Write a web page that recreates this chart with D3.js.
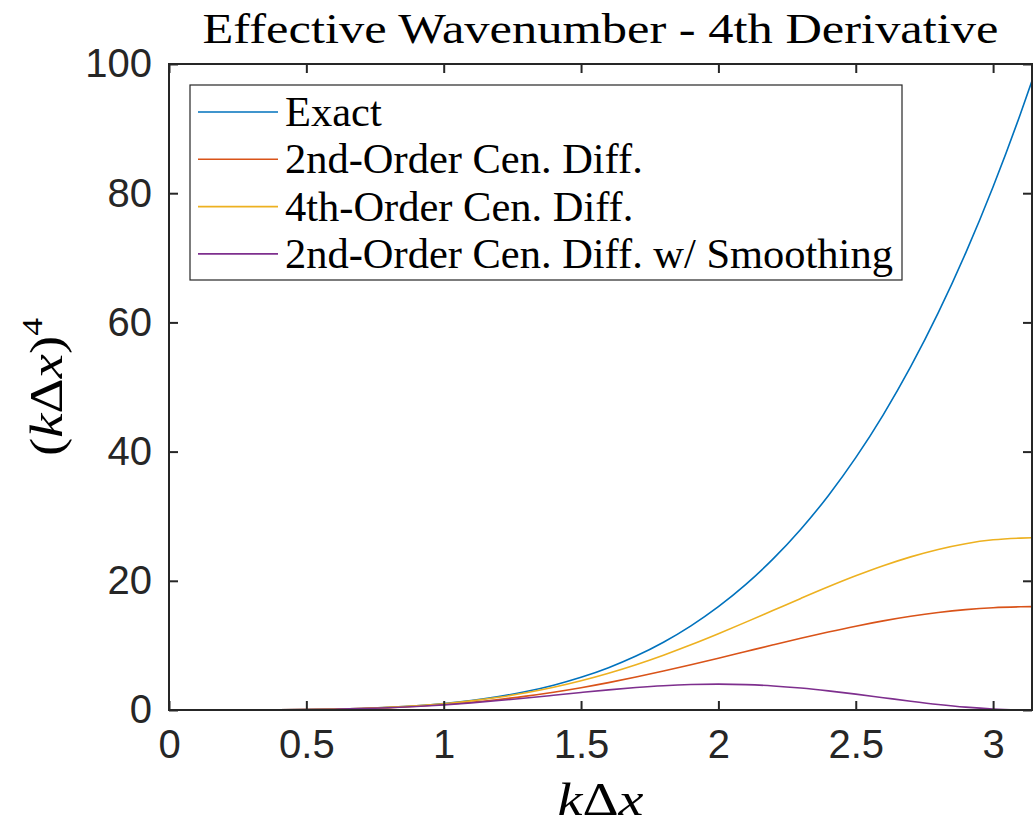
<html lang="en">
<head>
  <title>Effective Wavenumber</title>
  <meta charset="utf-8">
  <style>
    body { margin: 0; background: #fff; }
    svg { display: block; }
  </style>
</head>
<script src="https://d3js.org/d3.v7.min.js"></script>
<body>
  <svg id='canvas'></svg>
</body>
<script>

// ************************************************************************************** //
// Data

var kdx = [0, 0.1, 0.2, 0.3, 0.4, 0.5, 0.6, 0.7, 0.8, 0.9, 1.0, 1.1, 1.2, 1.3, 1.4, 1.5,
           1.6, 1.7, 1.8, 1.9, 2.0, 2.1, 2.2, 2.3, 2.4, 2.5, 2.6, 2.7, 2.8, 2.9, 3.0, 3.1, 3.1416];

var exact  = [0, 0.0001, 0.0016, 0.0081, 0.0256, 0.0625, 0.1296, 0.2401, 0.4096, 0.6561, 1.0, 1.4641,
              2.0736, 2.8561, 3.8416, 5.0625, 6.5536, 8.3521, 10.498, 13.032, 16.0, 19.448, 23.426,
              27.984, 33.178, 39.063, 45.698, 53.144, 61.466, 70.728, 81.0, 92.352, 97.409];
var cen2   = [0, 0.0001, 0.0016, 0.0080, 0.0249, 0.0599, 0.1220, 0.2212, 0.3679, 0.5727, 0.8453, 1.1942,
              1.6263, 2.1462, 2.7558, 3.4541, 4.2370, 5.0972, 6.0241, 7.0044, 8.0219, 9.0582, 10.093,
              11.106, 12.074, 12.976, 13.792, 14.502, 15.089, 15.539, 15.838, 15.973, 16.0];
var cen4   = [0, 0.0001, 0.0016, 0.0081, 0.0256, 0.0624, 0.1291, 0.2385, 0.4052, 0.6450, 0.9748, 1.4117,
              1.9720, 2.6703, 3.5183, 4.5241, 5.6906, 7.0151, 8.4884, 10.094, 11.809, 13.602, 15.438,
              17.274, 19.067, 20.767, 22.329, 23.706, 24.858, 25.747, 26.344, 26.612, 26.667];
var smooth = [0, 0.0001, 0.0016, 0.0080, 0.0249, 0.0597, 0.1211, 0.2181, 0.3595, 0.5522, 0.8006, 1.1051,
              1.4610, 1.8583, 2.2812, 2.7085, 3.1150, 3.4734, 3.7560, 3.9381, 4.0000, 3.9300, 3.7261,
              3.3971, 2.9626, 2.4522, 1.9032, 1.3578, 0.8592, 0.4480, 0.1601, 0.0272, 0];

var seriesNames = ['Exact', '2nd-Order Cen. Diff.', '4th-Order Cen. Diff.', '2nd-Order Cen. Diff. w/ Smoothing'];
var seriesValues = [exact, cen2, cen4, smooth];
var seriesColors = ['#0072BD', '#D95319', '#EDB120', '#7E2F8E'];

var xTicks = [0, 0.5, 1, 1.5, 2, 2.5, 3];
var yTicks = [0, 20, 40, 60, 80, 100];

// ************************************************************************************** //
// Layout

var canvas_width = 1033, canvas_height = 824;
var plot = { left: 169, right: 1032, top: 64, bottom: 710 };
var ink = '#262626';
var serif = "'Liberation Serif', 'DejaVu Serif', serif";
var sans = "'Liberation Sans', Arial, sans-serif";

var svg = d3.select('#canvas').attr('width', canvas_width).attr('height', canvas_height);

var x = d3.scaleLinear().domain([0, Math.PI]).range([plot.left, plot.right]);
var y = d3.scaleLinear().domain([0, 100]).range([plot.bottom, plot.top]);

// ************************************************************************************** //
// Curves

svg.append('defs').append('clipPath').attr('id', 'clip')
  .append('rect')
  .attr('x', plot.left).attr('y', plot.top)
  .attr('width', plot.right - plot.left).attr('height', plot.bottom - plot.top);

var lineGen = d3.line()
  .x(function(d, i){ return x(kdx[i]); })
  .y(function(d){ return y(d); })
  .curve(d3.curveMonotoneX);

svg.append('g').attr('clip-path', 'url(#clip)')
  .selectAll('path').data(seriesValues).enter().append('path')
  .attr('d', lineGen)
  .attr('fill', 'none')
  .attr('stroke', function(d, i){ return seriesColors[i]; })
  .attr('stroke-width', 1.6);

// ************************************************************************************** //
// Axes (inward ticks on all four sides)

var tickLen = 9;
var fmt = d3.format('~g');

function styleAxis(g){
  g.select('.domain').remove();
  g.selectAll('line').attr('stroke', ink).attr('stroke-width', 2);
  g.selectAll('text').attr('fill', ink).attr('font-family', sans).attr('font-size', 40);
}

svg.append('g').attr('transform', 'translate(0,' + plot.bottom + ')')
  .call(d3.axisBottom(x).tickValues(xTicks).tickFormat(fmt).tickSizeInner(-tickLen).tickSizeOuter(0).tickPadding(20))
  .call(styleAxis)
  .selectAll('text').attr('dy', '0.71em');

svg.append('g').attr('transform', 'translate(0,' + plot.top + ')')
  .call(d3.axisTop(x).tickValues(xTicks).tickFormat('').tickSizeInner(-tickLen).tickSizeOuter(0))
  .call(styleAxis);

svg.append('g').attr('transform', 'translate(' + plot.left + ',0)')
  .call(d3.axisLeft(y).tickValues(yTicks).tickFormat(fmt).tickSizeInner(-tickLen).tickSizeOuter(0).tickPadding(17))
  .call(styleAxis);

svg.append('g').attr('transform', 'translate(' + plot.right + ',0)')
  .call(d3.axisRight(y).tickValues(yTicks).tickFormat('').tickSizeInner(-tickLen).tickSizeOuter(0))
  .call(styleAxis);

svg.append('rect')
  .attr('x', plot.left).attr('y', plot.top)
  .attr('width', plot.right - plot.left).attr('height', plot.bottom - plot.top)
  .attr('fill', 'none').attr('stroke', ink).attr('stroke-width', 2);

// ************************************************************************************** //
// Title and labels

svg.append('text')
  .attr('x', (plot.left + plot.right) / 2).attr('y', 43)
  .attr('text-anchor', 'middle').attr('font-family', serif).attr('font-size', 43).attr('fill', '#000')
  .attr('textLength', 796).attr('lengthAdjust', 'spacingAndGlyphs')
  .text('Effective Wavenumber - 4th Derivative');

var xlab = svg.append('text')
  .attr('x', (plot.left + plot.right) / 2).attr('y', 815)
  .attr('text-anchor', 'middle').attr('font-family', serif).attr('font-size', 46).attr('fill', '#000')
  .attr('textLength', 86).attr('lengthAdjust', 'spacingAndGlyphs');
xlab.append('tspan').attr('font-style', 'italic').text('k');
xlab.append('tspan').text('\u0394');
xlab.append('tspan').attr('font-style', 'italic').text('x');

var ylab = svg.append('text')
  .attr('transform', 'translate(62,' + (plot.top + plot.bottom) / 2 + ') rotate(-90)')
  .attr('text-anchor', 'middle').attr('font-family', serif).attr('font-size', 46).attr('fill', '#000')
  .attr('textLength', 138).attr('lengthAdjust', 'spacingAndGlyphs');
ylab.append('tspan').text('(');
ylab.append('tspan').attr('font-style', 'italic').text('k');
ylab.append('tspan').text('\u0394');
ylab.append('tspan').attr('font-style', 'italic').text('x');
ylab.append('tspan').text(')');
ylab.append('tspan').attr('font-size', 30).attr('dy', -20).text('4');

// ************************************************************************************** //
// Legend

var legend = { left: 190, top: 85, width: 712, height: 195, row: 47.3, first: 112 };

svg.append('rect')
  .attr('x', legend.left).attr('y', legend.top)
  .attr('width', legend.width).attr('height', legend.height)
  .attr('fill', '#fff').attr('stroke', ink).attr('stroke-width', 1.2);

var items = svg.append('g').selectAll('g').data(seriesNames).enter().append('g')
  .attr('transform', function(d, i){ return 'translate(0,' + (legend.first + i * legend.row) + ')'; });

items.append('line')
  .attr('x1', 198).attr('x2', 278)
  .attr('stroke', function(d, i){ return seriesColors[i]; })
  .attr('stroke-width', 1.6);

var labels = items.append('text')
  .attr('x', 285).attr('dy', '0.33em')
  .attr('font-family', serif).attr('font-size', 36).attr('fill', '#000')
  .text(function(d){ return d; });

// legend font scaled so the longest entry spans the box like the reference
var lw = labels.nodes()[3].getComputedTextLength();
labels.attr('font-size', 36 * 608 / lw);

</script>
</html>
